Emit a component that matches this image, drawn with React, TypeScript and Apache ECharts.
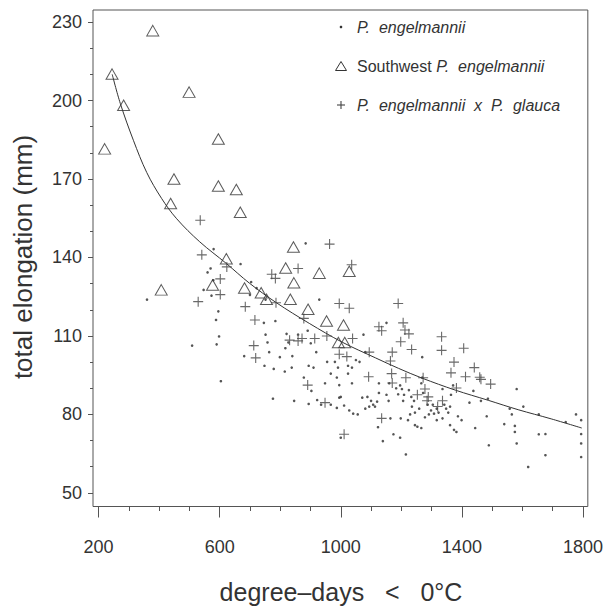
import React, { useEffect, useRef } from "react";
import * as echarts from "echarts";

const xMajorTicks = [200, 600, 1000, 1400, 1800];
const xMinorTicks = [300, 400, 500, 700, 800, 900, 1100, 1200, 1300, 1500, 1600, 1700];
const yMajorTicks = [50, 80, 110, 140, 170, 200, 230];
const yMinorTicks = [60, 70, 90, 100, 120, 130, 150, 160, 180, 190, 210, 220];

const southwestPts = [
  [379, 226.7], [244.5, 210.1], [282.7, 198.2], [220, 181.5], [499, 203.2],
  [595.6, 185.3], [449, 170], [595.6, 167.3], [655, 166], [438, 160.6],
  [668, 157.3], [843.6, 144], [622, 139.5], [407, 127.6], [576.5, 129.5],
  [818, 136], [929, 134], [1028, 134.7], [682, 128.3], [845, 130.3],
  [737, 126.5], [754.6, 124], [833.4, 124], [892, 120.2], [953, 115.7],
  [1009, 114.2], [992, 107.5], [1013, 107.5],
];

const hybridPts = [
  [535.8, 154.2], [541, 141], [529, 123.1], [602, 131.8], [602, 125.8],
  [623.6, 136.4], [684.6, 121.2], [716.4, 116.1], [712.6, 106.3], [719, 101.6],
  [772, 133.6], [784, 132.0], [786, 122.7], [859, 135.8], [878, 116.7],
  [872, 109], [859, 108.1], [831, 108.4], [914, 109], [963, 145.1],
  [954, 110], [995, 103], [995, 122.4], [1028, 120.6], [1036, 137.2],
  [1020, 102.1], [1039, 109], [1011, 72.4], [1094, 103.8], [1092, 94.4],
  [948, 84.5], [890.7, 91.2], [1126, 113.5], [1135, 112], [1164, 100.4],
  [1170, 103.8], [1168, 95.6], [1170, 92], [1135, 78.5], [1189.6, 122.4],
  [1206, 115], [1212, 112.3], [1225, 110.8], [1198, 107.8], [1234, 104.8],
  [1215, 94], [1272, 94], [1278, 89.7], [1253, 87.5], [1333, 109.7],
  [1333, 104.5], [1364, 95.9], [1374, 100], [1382, 90.1], [1406, 105.3],
  [1412, 94.4], [1441, 97.9], [1459, 94.2], [1463, 93.4], [1495, 91.6],
  [1336, 85.2], [1320, 83], [1285, 85.2], [1289, 86.7],
];

const engelmanniiPts = [
  [360, 123.9], [509, 106.3], [580, 143.2], [570, 135.8], [560, 134.3],
  [547, 127.6], [579, 131.3], [573, 125.4], [595.6, 119.4], [588, 116.1],
  [598, 109.8], [590, 106.8], [604, 92.7], [669, 137.5], [704, 130.6],
  [722, 128.3], [700, 125.7], [681, 102.3], [758, 107.5], [751.6, 110.5],
  [746, 115], [751.6, 123.9], [784, 115.7], [763.5, 103.8], [748, 98.6],
  [778.6, 97.4], [776, 86], [821, 110.8], [827, 107.5], [817, 105.3],
  [798.8, 101.9], [815, 96.4], [840, 102.3], [838, 97.9], [846, 85.2],
  [884, 145.4], [929, 123.9], [859, 110.5], [890.7, 112], [900.9, 107.2],
  [919, 103.8], [910, 97.9], [878, 94.1], [894, 98.6], [903, 89],
  [922, 85.5], [894, 84], [935, 83.7], [948, 91.9], [955, 100.1],
  [980.6, 100.1], [990.8, 97.9], [967, 95.6], [987, 94.1], [995, 91.2],
  [987, 82.5], [995, 86.4], [967, 83.7], [1000, 86.7], [1011, 83.4],
  [1000, 71.1], [1024, 98.6], [1037, 97.9], [1024, 95.6], [1037, 91.9],
  [1050, 100.8], [1062, 100.1], [1075, 110.5], [1081, 103.8], [1071, 86.4],
  [1081, 82.2], [1028, 81.5], [1056, 80], [1041, 80.3], [1088, 86.7],
  [1100, 85.2], [1107, 83.7], [1113, 83], [1094, 83], [1126, 91.9],
  [1126, 88.2], [1120, 84.9], [1123, 75.1], [1139, 69.8], [1151, 87.5],
  [1160, 91.9], [1151, 115], [1158, 85.2], [1164, 78.5], [1174, 72.4],
  [1183, 90], [1189.6, 87.7], [1196, 91.1], [1202, 89.7], [1209, 87.5],
  [1206, 85.2], [1198, 78.5], [1196, 71.1], [1215, 64.7], [1222, 77.8],
  [1225, 89.3], [1233, 86.7], [1242, 85.2], [1235, 83], [1245, 80.7],
  [1229, 80], [1245, 75.9], [1253, 75.3], [1266, 74.8], [1259, 82.2],
  [1269, 101.9], [1269, 94.1], [1266, 91.9], [1272, 88.2], [1287, 83.7],
  [1278, 78.9], [1291, 80], [1298, 81.5], [1304, 83.7], [1308, 80.3],
  [1317, 77.8], [1323, 80.7], [1336, 78.5], [1317, 82.2], [1342, 83.7],
  [1348, 82.2], [1361, 83], [1355, 80.7], [1361, 75.9], [1374, 74.1],
  [1382, 73.3], [1387, 79.3], [1399, 77.8], [1425, 84.5], [1438, 89],
  [1444, 74.8], [1463, 85.2], [1482, 79.3], [1486, 86], [1489, 68.2],
  [1540, 76.3], [1558, 82.2], [1565, 80], [1575, 75.6], [1575, 73.3],
  [1581, 68.9], [1581, 89.7], [1603, 83], [1619, 59.9], [1654, 72.4],
  [1654, 80], [1676, 72.5], [1676, 64.4], [1777, 80], [1794, 77.8],
  [1794, 72.5], [1794, 68.9], [1794, 63.7], [1743, 77.1], [1364, 87.5],
  [1336, 89.7], [1371, 91.1],
];

const curvePts = [
  [245, 210], [272, 198.8], [315, 184.8], [359, 172.5], [408, 162.6],
  [458, 154.8], [534, 146], [622, 137.7], [698, 130.2], [786, 122.8],
  [896, 114.8], [1005, 107.6], [1115, 101.6], [1191, 97.6], [1268, 93.9],
  [1378, 89.3], [1487, 85.4], [1586, 81.8], [1695, 78.3], [1796, 74.8],
];

const legendLabels = ["P.  engelmannii", "Southwest", "P.  engelmannii  x  P.  glauca"];

const FONT = "'Liberation Sans', Arial, sans-serif";
const AXIS_COLOR = "#555";
const TEXT_COLOR = "#333";

export default function App() {
  const ref = useRef<HTMLDivElement>(null);
  useEffect(() => {
    if (!ref.current) return;
    const chart = echarts.init(ref.current, null, { renderer: "svg" });
    const xMin = 181.6, xMax = 1816, yMin = 44.8, yMax = 234.6;
    const fmt = (v: number) => String(v);
    const baseX = {
      type: "value", min: xMin, max: xMax, position: "bottom",
      axisLine: { show: false }, splitLine: { show: false },
    };
    const baseY = {
      type: "value", min: yMin, max: yMax, position: "left",
      axisLine: { show: false }, splitLine: { show: false },
    };
    chart.setOption({
      animation: false,
      grid: {
        left: 93, right: 15.5, top: 10, bottom: 105.5,
        show: true, borderColor: AXIS_COLOR, borderWidth: 1, backgroundColor: "transparent",
      },
      xAxis: [
        {
          ...baseX,
          axisTick: { show: true, customValues: xMajorTicks, length: 11, lineStyle: { color: AXIS_COLOR } },
          axisLabel: { show: true, customValues: xMajorTicks, formatter: fmt, margin: 31, fontSize: 18, color: TEXT_COLOR, fontFamily: FONT },
        },
        {
          ...baseX,
          axisTick: { show: true, customValues: xMinorTicks, length: 4.5, lineStyle: { color: AXIS_COLOR } },
          axisLabel: { show: false },
        },
      ],
      yAxis: [
        {
          ...baseY,
          axisTick: { show: true, customValues: yMajorTicks, length: 5, lineStyle: { color: AXIS_COLOR } },
          axisLabel: { show: true, customValues: yMajorTicks, formatter: fmt, margin: 11, fontSize: 18, color: TEXT_COLOR, fontFamily: FONT },
        },
        {
          ...baseY,
          axisTick: { show: true, customValues: yMinorTicks, length: 3, lineStyle: { color: AXIS_COLOR } },
          axisLabel: { show: false },
        },
      ],
      series: [
        {
          type: "line", data: curvePts, smooth: 0.35, showSymbol: false, silent: true,
          lineStyle: { color: "#333", width: 1 }, z: 1,
        },
        {
          name: "P. engelmannii", type: "scatter", data: engelmanniiPts,
          symbol: "circle", symbolSize: 2.6, itemStyle: { color: "#2a2a2a" }, z: 2,
        },
        {
          name: "Southwest P. engelmannii", type: "scatter", data: southwestPts,
          symbol: "triangle", symbolSize: [12, 10.5],
          itemStyle: { color: "rgba(255,255,255,0)", borderColor: "#333", borderWidth: 1 }, z: 3,
        },
        {
          name: "P. engelmannii x P. glauca", type: "scatter", data: hybridPts,
          symbol: "path://M0,5 L10,5 M5,0 L5,10", symbolSize: 10,
          itemStyle: { color: "rgba(255,255,255,0)", borderColor: "#444", borderWidth: 1.1 }, z: 3,
        },
      ],
      graphic: [
        { type: "circle", shape: { cx: 341, cy: 27, r: 1.3 }, style: { fill: "#333" } },
        {
          type: "polygon", shape: { points: [[335.5, 70.5], [346.5, 70.5], [341, 61.5]] },
          style: { fill: "none", stroke: "#333", lineWidth: 1 },
        },
        { type: "line", shape: { x1: 337, y1: 105, x2: 345, y2: 105 }, style: { stroke: "#444", lineWidth: 1.1 } },
        { type: "line", shape: { x1: 341, y1: 101, x2: 341, y2: 109 }, style: { stroke: "#444", lineWidth: 1.1 } },
        {
          type: "text", x: 357, y: 27,
          style: { text: legendLabels[0], font: `italic 16px ${FONT}`, fill: TEXT_COLOR, verticalAlign: "middle", align: "left" },
        },
        {
          type: "text", x: 357, y: 66,
          style: {
            text: `{n|${legendLabels[1]} }{i|${legendLabels[0]}}`,
            verticalAlign: "middle", align: "left",
            rich: {
              n: { fontFamily: FONT, fontSize: 16, fill: TEXT_COLOR, fontStyle: "normal" },
              i: { fontFamily: FONT, fontSize: 16, fill: TEXT_COLOR, fontStyle: "italic" },
            },
          },
        },
        {
          type: "text", x: 357, y: 105,
          style: { text: legendLabels[2], font: `italic 16px ${FONT}`, fill: TEXT_COLOR, verticalAlign: "middle", align: "left" },
        },
        {
          type: "text", x: 341, y: 592,
          style: { text: "degree\u2013days   <   0°C", font: `25px ${FONT}`, fill: TEXT_COLOR, align: "center", verticalAlign: "middle" },
        },
        {
          type: "text", x: 23, y: 257, rotation: Math.PI / 2,
          style: { text: "total elongation (mm)", font: `26px ${FONT}`, fill: TEXT_COLOR, align: "center", verticalAlign: "middle" },
        },
      ],
    });
    return () => chart.dispose();
  }, []);
  return <div ref={ref} style={{ position: "fixed", left: 0, top: 0, width: 606, height: 612, background: "#fff" }} />;
}
